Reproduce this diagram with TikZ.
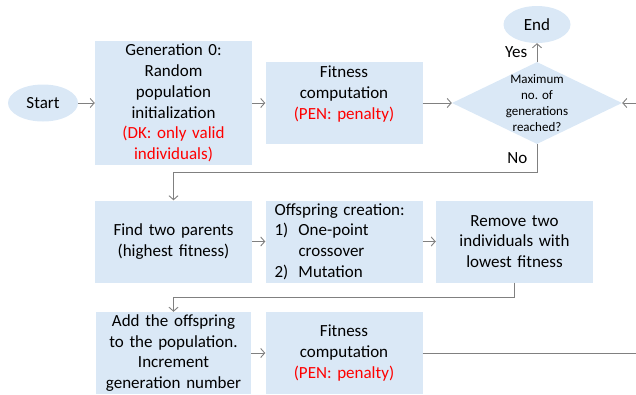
\documentclass[tikz,border=0pt]{standalone}
\usepackage{fontspec}
\setmainfont{Carlito}
\usetikzlibrary{arrows.meta, positioning, shapes.geometric}

\definecolor{boxblue}{RGB}{218,232,246}
\definecolor{linegray}{RGB}{128,128,128}
\definecolor{pentext}{RGB}{255,0,0}

\begin{document}
\begin{tikzpicture}[
    x=1pt, y=-1pt,
    font=\fontsize{17}{20.8}\selectfont,
    >={Straight Barb[length=4pt, width=9pt]},
    box/.style={fill=boxblue, inner sep=2pt, text width=153pt, align=center, minimum height=82pt},
    terminal/.style={ellipse, fill=boxblue, inner sep=0pt, minimum width=70pt, minimum height=37pt},
    decision/.style={diamond, fill=boxblue, inner sep=0pt, minimum width=170pt, minimum height=82pt},
    flow/.style={->, draw=linegray, line width=0.9pt},
    note/.style={text=pentext}
]

    % === Frame ===
    \useasboundingbox (0,0) rectangle (636,394);
    \clip (0,0) rectangle (636,394);

    % === First row ===
    \node[terminal] (start) at (43,103) {Start};
    \node[box, minimum height=124pt] (gen0) at (173.5,103)
        {Generation 0:\\Random\\population\\initialization\\{\color{pentext}(DK: only valid individuals)}};
    \node[box] (fit1) at (344,103)
        {Fitness\\computation\\{\color{pentext}(PEN: penalty)}\\\mbox{}};
    \node[decision, label={[font=\fontsize{13}{16}\selectfont, align=center]center:Maximum\\no. of\\generations\\reached?}] (check) at (537,103) {};
    \node[terminal, minimum width=67pt] (stop) at (537,24.5) {End};

    % === Second row ===
    \node[box] (parents) at (173.5,241.5) {Find two parents\\(highest fitness)};
    \node[box, align=left, inner xsep=9pt, text width=139pt] (offspring) at (344,241.5)
        {Offspring creation:\\\makebox[24pt][l]{1)}One-point\\\hspace*{24pt}crossover\\\makebox[24pt][l]{2)}Mutation};
    \node[box] (remove) at (514.5,241.5) {Remove two\\individuals with\\lowest fitness};

    % === Third row ===
    \node[box, inner sep=1pt] (addoff) at (173.5,353)
        {Add the offspring\\to the population.\\Increment\\generation number};
    \node[box] (fit2) at (344,353)
        {Fitness\\computation\\{\color{pentext}(PEN: penalty)}};

    % === Helper points ===
    \coordinate (nobend) at (537,172);
    \coordinate (loopback) at (660,353);

    % === Connectors ===
    \draw[flow] (start) -- (gen0);
    \draw[flow] (gen0) -- (fit1);
    \draw[flow] (fit1) -- (check);
    \draw[flow] (check) -- node[left=6pt] {Yes} (stop);
    \draw[flow] (check.south) -- node[left=6pt] {No} (nobend) -| (parents.north);
    \draw[flow] (parents) -- (offspring);
    \draw[flow] (offspring) -- (remove);
    \draw[flow] (remove.south) -- ++(0,15) -| (addoff.north);
    \draw[flow] (addoff) -- (fit2);
    \draw[flow] (fit2) -- (loopback) |- (check.east);

\end{tikzpicture}
\end{document}
